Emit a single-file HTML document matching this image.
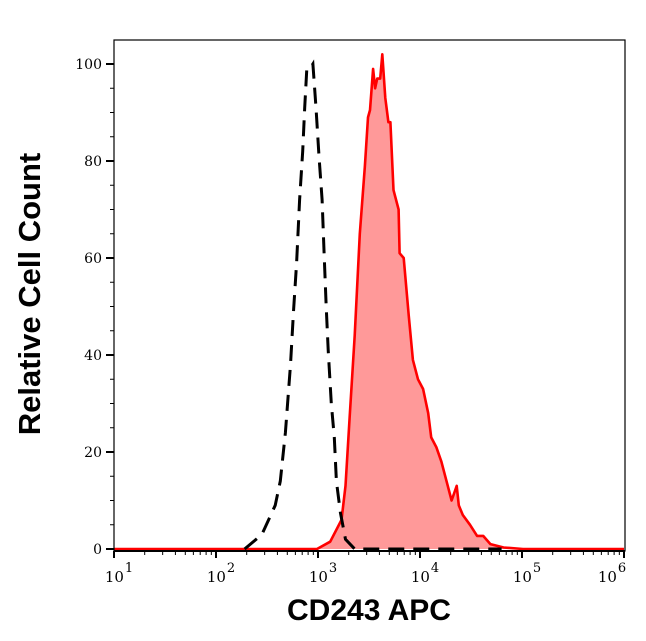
<!DOCTYPE html>
<html><head><meta charset="utf-8"><style>
html,body{margin:0;padding:0;background:#fff;}
svg{display:block;}
</style></head><body>
<svg id="chart" width="646" height="641" viewBox="0 0 646 641" xmlns="http://www.w3.org/2000/svg">
<rect x="0" y="0" width="646" height="641" fill="#fff"/>
<g id="marks"></g>
<rect x="114" y="40" width="511" height="511" fill="none" stroke="#000" stroke-width="1.2"/>
<g id="axes"></g>
<text x="40" y="294" transform="rotate(-90 40 294)" text-anchor="middle" font-family="'Liberation Sans',sans-serif" font-weight="bold" font-size="31" fill="#000">Relative Cell Count</text>
<text x="369" y="620" text-anchor="middle" font-family="'Liberation Sans',sans-serif" font-weight="bold" font-size="30" fill="#000">CD243 APC</text>
</svg>
<script>
const yTicks = [0, 20, 40, 60, 80, 100];
const xDecades = [1, 2, 3, 4, 5, 6];
const isoLog = [2.28, 2.45, 2.58, 2.63, 2.68, 2.73, 2.76, 2.79, 2.82, 2.85, 2.87, 2.89, 2.92, 2.95, 2.98, 3.01, 3.04, 3.06, 3.08, 3.10, 3.13, 3.16, 3.18, 3.22, 3.27, 3.36, 4.8];
const isoVal = [0, 3, 9, 14, 24, 38, 49, 59, 72, 82, 91, 99, 99, 100, 91, 81, 72, 61, 50, 41, 30, 23, 14, 7.5, 2, 0, 0];
const sampleLog = [1.0, 2.99, 3.12, 3.23, 3.27, 3.31, 3.36, 3.41, 3.46, 3.49, 3.51, 3.54, 3.56, 3.58, 3.61, 3.63, 3.66, 3.69, 3.71, 3.74, 3.79, 3.80, 3.84, 3.89, 3.93, 3.98, 4.03, 4.08, 4.11, 4.16, 4.21, 4.26, 4.31, 4.36, 4.38, 4.42, 4.49, 4.56, 4.62, 4.69, 4.82, 5.01, 6.0];
const sampleVal = [0, 0, 1.5, 6, 13, 27, 44, 65, 79, 89, 90.5, 99, 95, 97, 97, 102, 93, 88, 88, 74, 70, 61, 60, 48, 39, 35, 33, 28, 23, 21, 18, 14, 10, 13, 9, 7, 5, 2.7, 2.7, 1, 0.3, 0, 0];

const X0 = 114, DEC = 102, Y0 = 549, YS = 4.85;
function sx(l){ return X0 + (l - 1) * DEC; }
function sy(v){ return Y0 - v * YS; }
const NS = 'http://www.w3.org/2000/svg';
function mk(tag, attrs, parent){ const e = document.createElementNS(NS, tag); for (const k in attrs) e.setAttribute(k, attrs[k]); parent.appendChild(e); return e; }
const marks = document.getElementById('marks');
const axes = document.getElementById('axes');

let d = 'M' + sx(sampleLog[0]) + ',' + sy(0);
sampleLog.forEach((l, i) => { d += ' L' + sx(l).toFixed(1) + ',' + sy(sampleVal[i]).toFixed(1); });
d += ' L' + sx(sampleLog[sampleLog.length-1]) + ',' + sy(0) + ' Z';
const fill = mk('path', {d: d, fill: '#ff9999', stroke: 'none'}, marks);


const line = mk('polyline', {points: sampleLog.map((l, i) => sx(l).toFixed(1) + ',' + sy(sampleVal[i]).toFixed(1)).join(' '), fill: 'none', stroke: '#ff0000', 'stroke-width': 2.6, 'stroke-linejoin': 'round'}, marks);


const iso = mk('polyline', {points: isoLog.map((l, i) => sx(l).toFixed(1) + ',' + sy(isoVal[i]).toFixed(1)).join(' '), fill: 'none', stroke: '#000', 'stroke-width': 3, 'stroke-dasharray': '16,9'}, marks);



for (let v = 0; v <= 100; v += 5) {
  const major = v % 20 === 0;
  const t = mk('line', {x1: major ? 106 : 110, x2: 114, y1: sy(v), y2: sy(v), stroke: '#000', 'stroke-width': major ? 2 : 1}, axes);
  
  
}
yTicks.forEach(v => {
  const t = mk('text', {x: 102, y: sy(v) + 5, 'text-anchor': 'end', 'font-family': "'DejaVu Serif',serif", 'font-size': 14, fill: '#000'}, axes);
  t.textContent = v;
  
  
});
xDecades.forEach((dec, i) => {
  const t = mk('line', {x1: sx(dec), x2: sx(dec), y1: 551, y2: 558, stroke: '#000', 'stroke-width': 2}, axes);
  
  
  if (i < xDecades.length - 1) {
    for (let m = 2; m <= 9; m++) {
      const mt = mk('line', {x1: sx(dec + Math.log10(m)), x2: sx(dec + Math.log10(m)), y1: 551, y2: 555, stroke: '#000', 'stroke-width': 1}, axes);
      
      
    }
  }
  const lx = Math.min(sx(dec) + 5, 612);
  const lab = mk('text', {x: lx, y: 582, 'text-anchor': 'middle', 'font-family': "'DejaVu Serif',serif", 'font-size': 15, fill: '#000'}, axes);
  
  
  lab.appendChild(document.createTextNode('10'));
  const sup = mk('tspan', {dx: 1, dy: -10, 'font-size': 13}, lab);
  sup.textContent = dec;
});
const base = mk('line', {x1: 114, x2: 625, y1: 551, y2: 551, stroke: '#000', 'stroke-width': 2}, axes);


</script>
</body></html>
